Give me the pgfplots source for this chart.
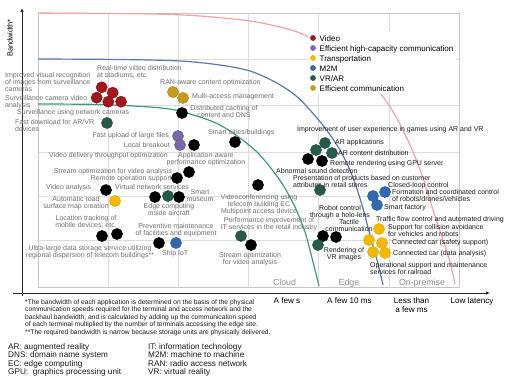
\documentclass[border=0pt]{standalone}
\usepackage{pgfplots}
\pgfplotsset{compat=1.18}
\usepackage{fontspec}
\setmainfont{Liberation Sans}
\usetikzlibrary{arrows.meta}
\definecolor{videoRed}{HTML}{A3161A}
\definecolor{purpleC}{HTML}{7B68A6}
\definecolor{yellowC}{HTML}{F5B800}
\definecolor{m2mBlue}{HTML}{3169B0}
\definecolor{vrGreen}{HTML}{265B4C}
\definecolor{goldC}{HTML}{C79A1B}
\definecolor{pinkL}{HTML}{F2A3A3}
\definecolor{blueL}{HTML}{5A78AE}
\definecolor{greenL}{HTML}{3E9A78}
\definecolor{gridC}{HTML}{DCDCDC}
\definecolor{labgray}{HTML}{6E6E6E}
\definecolor{labblack}{HTML}{1A1A1A}
\tikzset{
 lg/.style={font=\fontsize{7}{7.2}\selectfont, text=labgray, inner sep=0pt},
 lb/.style={font=\fontsize{7}{7.2}\selectfont, text=labblack, inner sep=0pt},
 leg/.style={font=\fontsize{8}{9}\selectfont, text=black, inner sep=0pt, anchor=base west},
 fn/.style={font=\fontsize{6.7}{7.5}\selectfont, text=labblack, inner sep=0pt, anchor=base west},
 ab/.style={font=\fontsize{8.2}{9}\selectfont, text=labblack, inner sep=0pt, anchor=base west},
 ax/.style={font=\fontsize{8.1}{9}\selectfont, text=black, inner sep=0pt, anchor=base},
 zone/.style={font=\fontsize{8.8}{9}\selectfont, text=black!45, inner sep=0pt, anchor=base},
}
\begin{document}
\begin{tikzpicture}
\begin{axis}[width=510pt,height=383pt,scale only axis,
  xmin=0,xmax=510,ymin=0,ymax=383,y dir=reverse,hide axis,clip=false]
\coordinate (BL) at (axis cs:0,383);
\coordinate (TR) at (axis cs:510,0);
% grid and frame
\foreach \gx in {108,178,248,318,389} {\edef\tmp{\noexpand\draw[gridC, line width=0.7pt] (axis cs:\gx,13) -- (axis cs:\gx,287);}\tmp}
\foreach \gy in {59,105,152,196,240} {\edef\tmp{\noexpand\draw[gridC, line width=0.7pt] (axis cs:38,\gy) -- (axis cs:459,\gy);}\tmp}
\draw[gridC!90!black, line width=0.8pt] (axis cs:38,13) rectangle (axis cs:459,287);
% curves
\addplot[pinkL, line width=1.2pt, smooth] coordinates {(38,13) (150,14) (200,16) (250,21) (280,27) (300,33) (320,43) (340,57) (360,73) (380,93) (395,115) (410,145) (422,175) (433,210) (443,240) (450,262) (455,284)};
\addplot[blueL, line width=1.2pt, smooth] coordinates {(38,59) (120,59.5) (180,61) (220,65) (250,71) (275,82) (295,95) (310,110) (325,128) (340,150) (352,175) (362,205) (370,235) (377,260) (383,285)};
\addplot[greenL, line width=1.2pt, smooth] coordinates {(38,104) (100,104.5) (150,107) (175,110) (200,117) (220,125) (240,138) (257,152) (270,167) (283,185) (295,207) (305,232) (312,258) (319,286)};
% axes
\draw[black!85, line width=1pt, -{Latex[length=4pt,width=3.5pt]}] (axis cs:22,296) -- (axis cs:22,8);
\draw[black!85, line width=1pt, -{Latex[length=4pt,width=3.5pt]}] (axis cs:13,293) -- (axis cs:490,293);
\node[font=\fontsize{7.4}{8}\selectfont, rotate=90, inner sep=0pt] at (axis cs:10,38) {Bandwidth*};
% zone labels
\node[zone] at (axis cs:284.5,285) {Cloud};
\node[zone] at (axis cs:349,285) {Edge};
\node[zone] at (axis cs:422,285) {On-premise};
% x labels
\node[ax] at (axis cs:287,303) {A few s};
\node[ax] at (axis cs:349.5,303) {A few 10 ms};
\node[ax, align=center] at (axis cs:411.5,312) {Less than\\a few ms};
\node[ax] at (axis cs:472,303) {Low latency};
% gray labels
\node[lg, anchor=base west, align=left] at (axis cs:5,91.4) {Improved visual recognition\\of images from surveillance\\cameras};
\node[lg, anchor=base west, align=left] at (axis cs:5,107.2) {Surveillance camera video\\analysis};
\node[lg, anchor=base west] at (axis cs:17,114) {Surveillance using network cameras};
\node[lg, anchor=base west, align=left] at (axis cs:15,131.2) {Fast download for AR/VR\\devices};
\node[lg, anchor=base west, align=left] at (axis cs:97,77.2) {Real-time video distribution\\at stadiums, etc.};
\node[lg, anchor=base west] at (axis cs:160,84) {RAN-aware content optimization};
\node[lg, anchor=base west] at (axis cs:192,98) {Multi-access management};
\node[lg, anchor=base, align=center] at (axis cs:224,117.2) {Distributed caching of\\content and DNS};
\node[lg, anchor=base east] at (axis cs:169,137) {Fast upload of large files};
\node[lg, anchor=base east] at (axis cs:170,147) {Local breakout};
\node[lg, anchor=base west] at (axis cs:208,134) {Smart cities/buildings};
\node[lg, anchor=base east] at (axis cs:168,157) {Video delivery throughput optimization};
\node[lg, anchor=base, align=center] at (axis cs:206,164.2) {Application-aware\\performance optimization};
\node[lg, anchor=base east, align=right] at (axis cs:172,180.2) {Stream optimization for video analysis\\Remote operation support};
\node[lg, anchor=base west] at (axis cs:46,189) {Video analysis};
\node[lg, anchor=base west] at (axis cs:115,189) {Virtual network services};
\node[lg, anchor=base, align=center] at (axis cs:200,201.2) {Smart\\museum};
\node[lg, anchor=base, align=center] at (axis cs:76,208.2) {Automatic road\\surface map creation};
\node[lg, anchor=base, align=center] at (axis cs:169,215.2) {Edge computing\\inside aircraft};
\node[lg, anchor=base, align=center] at (axis cs:86,227.2) {Location tracking of\\mobile devices, etc.};
\node[lg, anchor=base, align=center] at (axis cs:176,235.2) {Preventive maintenance\\of facilities and equipment};
\node[lg, anchor=base, align=center] at (axis cs:90,257.2) {Ultra-large data storage service utilizing\\regional dispersion of telecom buildings**};
\node[lg, anchor=base west] at (axis cs:162,255) {Ship IoT};
\node[lg, anchor=base, align=center] at (axis cs:259,213.4) {Videoconferencing using\\telecom building EC\\Multipoint access device};
\node[lg, anchor=base, align=center] at (axis cs:269,229.2) {Performance improvement of\\IT services in the retail industry};
\node[lg, anchor=base, align=center] at (axis cs:250,264.2) {Stream optimization\\for video analysis};
% black labels
\node[lb, anchor=base west] at (axis cs:297,131) {Improvement of user experience in games using AR and VR};
\node[lb, anchor=base west] at (axis cs:335,144) {AR applications};
\node[lb, anchor=base west] at (axis cs:338,155) {AR content distribution};
\node[lb, anchor=base west] at (axis cs:330,165) {Remote rendering using GPU server};
\node[lb, anchor=base west] at (axis cs:276,173) {Abnormal sound detection};
\node[lb, anchor=base west, align=left] at (axis cs:293,187.2) {Presentation of products based on customer\\attributes in retail stores};
\node[lb, anchor=base, align=center] at (axis cs:340,217.2) {Robot control\\through a holo-lens};
\node[lb, anchor=base, align=center] at (axis cs:349,231.2) {Tactile\\communication};
\node[lb, anchor=base, align=center] at (axis cs:344,259.2) {Rendering of\\VR images};
\node[lb, anchor=base west] at (axis cs:388,187) {Closed-loop control};
\node[lb, anchor=base west, align=left] at (axis cs:392,201.2) {Formation and coordinated control\\of robots/drones/vehicles};
\node[lb, anchor=base west] at (axis cs:384,209) {Smart factory};
\node[lb, anchor=base west] at (axis cs:376,221) {Traffic flow control and automated driving};
\node[lb, anchor=base west, align=left] at (axis cs:388,236.2) {Support for collision avoidance\\for vehicles and robots};
\node[lb, anchor=base west] at (axis cs:392,244) {Connected car (safety support)};
\node[lb, anchor=base west] at (axis cs:393,255) {Connected car (data analysis)};
\node[lb, anchor=base west, align=left] at (axis cs:370,274.2) {Operational support and maintenance\\services for railroad};
% bubbles
\addplot[only marks, mark=*, mark size=5.6pt, mark options={fill=videoRed, draw=videoRed!80!black, line width=0.4pt}] coordinates {(101.7,87.3) (112.7,92.7) (96.7,97.7) (108.3,101.7) (121,101.7)};
\addplot[only marks, mark=*, mark size=5.6pt, mark options={fill=goldC, draw=goldC!85!black, line width=0.4pt}] coordinates {(173,92) (183,98)};
\addplot[only marks, mark=*, mark size=5.6pt, mark options={fill=purpleC, draw=purpleC!85!black, line width=0.4pt}] coordinates {(178,136) (180,145)};
\addplot[only marks, mark=*, mark size=5.6pt, mark options={fill=black, draw=black}] coordinates {(182,113) (194,145) (235,142) (189,172) (177,178) (106,190) (155,197) (179,197) (102,236) (117,234) (159,243) (258,185) (251,245) (308,159) (322,161) (323,236) (336,237)};
\addplot[only marks, mark=*, mark size=5.6pt, mark options={fill=vrGreen, draw=vrGreen!85!black, line width=0.4pt}] coordinates {(107,123) (168,196) (241,236) (325,143) (316,150) (332,153) (320,190) (318,245)};
\addplot[only marks, mark=*, mark size=5.6pt, mark options={fill=m2mBlue, draw=m2mBlue!85!black, line width=0.4pt}] coordinates {(373,196) (385,192) (377,205) (176,243)};
\addplot[only marks, mark=*, mark size=5.6pt, mark options={fill=yellowC, draw=yellowC!90!black, line width=0.4pt}] coordinates {(115,201) (379,229) (369,240) (382,243) (373,252) (385,253)};
% legend
\fill[white] (axis cs:308,31) rectangle (axis cs:456,94);
\addplot[only marks, mark=*, mark size=2.6pt, mark options={fill=videoRed, draw=videoRed}] coordinates {(313,38)};
\addplot[only marks, mark=*, mark size=2.6pt, mark options={fill=purpleC, draw=purpleC}] coordinates {(313,48)};
\addplot[only marks, mark=*, mark size=2.6pt, mark options={fill=yellowC, draw=yellowC}] coordinates {(313,58)};
\addplot[only marks, mark=*, mark size=2.6pt, mark options={fill=m2mBlue, draw=m2mBlue}] coordinates {(313,68)};
\addplot[only marks, mark=*, mark size=2.6pt, mark options={fill=vrGreen, draw=vrGreen}] coordinates {(313,78)};
\addplot[only marks, mark=*, mark size=2.6pt, mark options={fill=goldC, draw=goldC}] coordinates {(313,88)};
\node[leg] at (axis cs:319.5,41) {Video};
\node[leg] at (axis cs:319.5,51) {Efficient high-capacity communication};
\node[leg] at (axis cs:319.5,61) {Transportation};
\node[leg] at (axis cs:319.5,71) {M2M};
\node[leg] at (axis cs:319.5,81) {VR/AR};
\node[leg] at (axis cs:319.5,91) {Efficient communication};
% footnotes
\node[fn] at (axis cs:25,304) {*The bandwidth of each application is determined on the basis of the physical};
\node[fn] at (axis cs:25,311.5) {communication speeds required for the terminal and access network and the};
\node[fn] at (axis cs:25,319) {backhaul bandwidth, and is calculated by adding up the communication speed};
\node[fn] at (axis cs:25,326.5) {of each terminal multiplied by the number of terminals accessing the edge site.};
\node[fn] at (axis cs:25,334) {**The required bandwidth is narrow because storage units are physically delivered.};
\node[ab] at (axis cs:8,349.5) {AR: augmented reality};
\node[ab] at (axis cs:8,357.8) {DNS: domain name system};
\node[ab] at (axis cs:8,366.1) {EC: edge computing};
\node[ab] at (axis cs:8,374.4) {GPU:\ \ graphics processing unit};
\node[ab] at (axis cs:148,349.5) {IT: information technology};
\node[ab] at (axis cs:148,357.8) {M2M: machine to machine};
\node[ab] at (axis cs:148,366.1) {RAN: radio access network};
\node[ab] at (axis cs:148,374.4) {VR: virtual reality};
\end{axis}
\pgfresetboundingbox
\useasboundingbox (BL) rectangle (TR);
\end{tikzpicture}
\end{document}
